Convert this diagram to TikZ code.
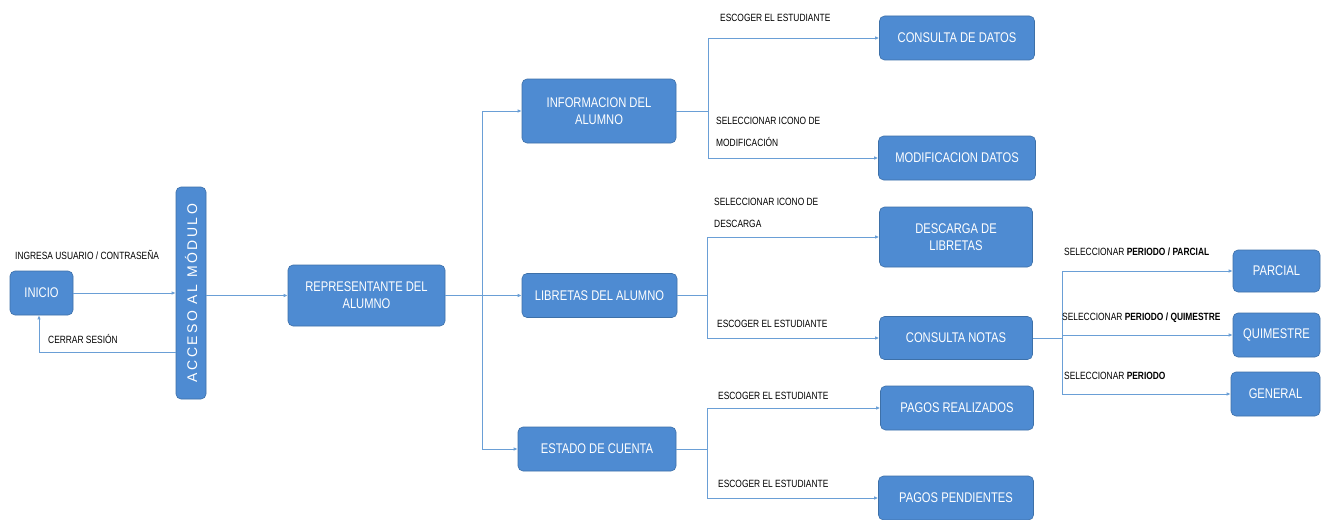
\documentclass[tikz,border=0pt]{standalone}
\usepackage{fontspec}
\setmainfont{Liberation Sans}
\newfontfamily\boxfnt[FakeStretch=0.8]{Liberation Sans}
\newfontfamily\lblfnt[FakeStretch=0.8]{Liberation Sans}
\newfontfamily\accfnt[LetterSpace=18]{Liberation Sans}
\usetikzlibrary{arrows.meta}
\definecolor{boxblue}{HTML}{4E8BD2}
\definecolor{boxedge}{HTML}{3D70A8}
\definecolor{lineblue}{HTML}{6A9FD6}
\tikzset{
  box/.style={rectangle, rounded corners=5pt, fill=boxblue, draw=boxedge, line width=0.6pt,
    text=white, align=center, inner sep=0pt, font=\boxfnt\fontsize{14}{17}\selectfont},
  lbl/.style={anchor=west, inner sep=0pt, align=left, text=black,
    font=\lblfnt\fontsize{10.5}{22}\selectfont},
  conn/.style={draw=lineblue, line width=0.8pt},
  arr/.style={conn, -{Latex[length=4pt,width=3.5pt]}}
}
\begin{document}
\begin{tikzpicture}[x=1pt,y=-1pt]
\useasboundingbox (0,0) rectangle (1329,519);
\fill[white] (0,0) rectangle (1329,519);

% boxes
\node[box, minimum width=63pt, minimum height=44pt] (inicio) at (41.5,293) {INICIO};
\node[box, minimum width=30pt, minimum height=212pt] (acceso) at (191,293)
  {\rotatebox{90}{\accfnt\fontsize{14}{15}\selectfont ACCESO AL MÓDULO}};
\node[box, minimum width=157pt, minimum height=61pt] (rep) at (366.5,295.5) {REPRESENTANTE DEL\\ALUMNO};
\node[box, minimum width=154pt, minimum height=64pt] (info) at (599,111) {INFORMACION DEL\\ALUMNO};
\node[box, minimum width=155pt, minimum height=44pt] (lib) at (599.5,295.5) {LIBRETAS DEL ALUMNO};
\node[box, minimum width=158pt, minimum height=44pt] (estado) at (597,449) {ESTADO DE CUENTA};
\node[box, minimum width=155pt, minimum height=44pt] (cdatos) at (957,38) {CONSULTA DE DATOS};
\node[box, minimum width=157pt, minimum height=44pt] (mdatos) at (957,158) {MODIFICACION DATOS};
\node[box, minimum width=153pt, minimum height=60pt] (desc) at (956,237) {DESCARGA DE\\LIBRETAS};
\node[box, minimum width=153pt, minimum height=43pt] (cnotas) at (956,338) {CONSULTA NOTAS};
\node[box, minimum width=153pt, minimum height=44pt] (preal) at (957,408) {PAGOS REALIZADOS};
\node[box, minimum width=155pt, minimum height=44pt] (ppend) at (956,498) {PAGOS PENDIENTES};
\node[box, minimum width=87pt, minimum height=42pt] (parcial) at (1276.5,271) {PARCIAL};
\node[box, minimum width=87pt, minimum height=44pt] (quim) at (1276.5,335) {QUIMESTRE};
\node[box, minimum width=89pt, minimum height=44pt] (general) at (1275.5,394) {GENERAL};

% branch coordinates
\coordinate (cs) at (39,352);
\coordinate (trunk) at (482,295.5);
\coordinate (bi) at (708,111);
\coordinate (bl) at (707,295.5);
\coordinate (be) at (707,449);
\coordinate (bn) at (1062,338);

% connectors
\draw[arr] (inicio.east) -- (inicio.east -| acceso.west);
\draw[arr] (acceso.east |- rep.west) -- (rep.west);
\draw[arr] (acceso.west |- cs) -- (cs) -- (cs |- inicio.south);
\draw[arr] (rep.east) -- (lib.west);
\draw[arr] (trunk) |- (info.west);
\draw[arr] (trunk) |- (estado.west);
\draw[arr] (info.east) -- (bi) |- (cdatos.west);
\draw[arr] (bi) |- (mdatos.west);
\draw[arr] (lib.east) -- (bl) |- (desc.west);
\draw[arr] (bl) |- (cnotas.west);
\draw[arr] (estado.east) -- (be) |- (preal.west);
\draw[arr] (be) |- (ppend.west);
\draw[arr] (cnotas.east) -- (bn) |- (quim.west);
\draw[arr] (bn) |- (parcial.west);
\draw[arr] (bn) |- (general.west);

% labels
\node[lbl] (l1) at (15,255) {INGRESA USUARIO / CONTRASEÑA};
\node[lbl] (l2) at (48,339) {CERRAR SESIÓN};
\node[lbl] (l3) at (720,18) {ESCOGER EL ESTUDIANTE};
\node[lbl] (l4) at (716,132) {SELECCIONAR ICONO DE\\MODIFICACIÓN};
\node[lbl] (l5) at (714,213) {SELECCIONAR ICONO DE\\DESCARGA};
\node[lbl] (l6) at (717,324) {ESCOGER EL ESTUDIANTE};
\node[lbl] (l7) at (718,396) {ESCOGER EL ESTUDIANTE};
\node[lbl] (l8) at (718,484) {ESCOGER EL ESTUDIANTE};
\node[lbl] (l9) at (1064,252) {SELECCIONAR \textbf{PERIODO / PARCIAL}};
\node[lbl] (l10) at (1062,318) {SELECCIONAR \textbf{PERIODO / QUIMESTRE}};
\node[lbl] (l11) at (1064,376) {SELECCIONAR \textbf{PERIODO}};
\end{tikzpicture}
\end{document}
